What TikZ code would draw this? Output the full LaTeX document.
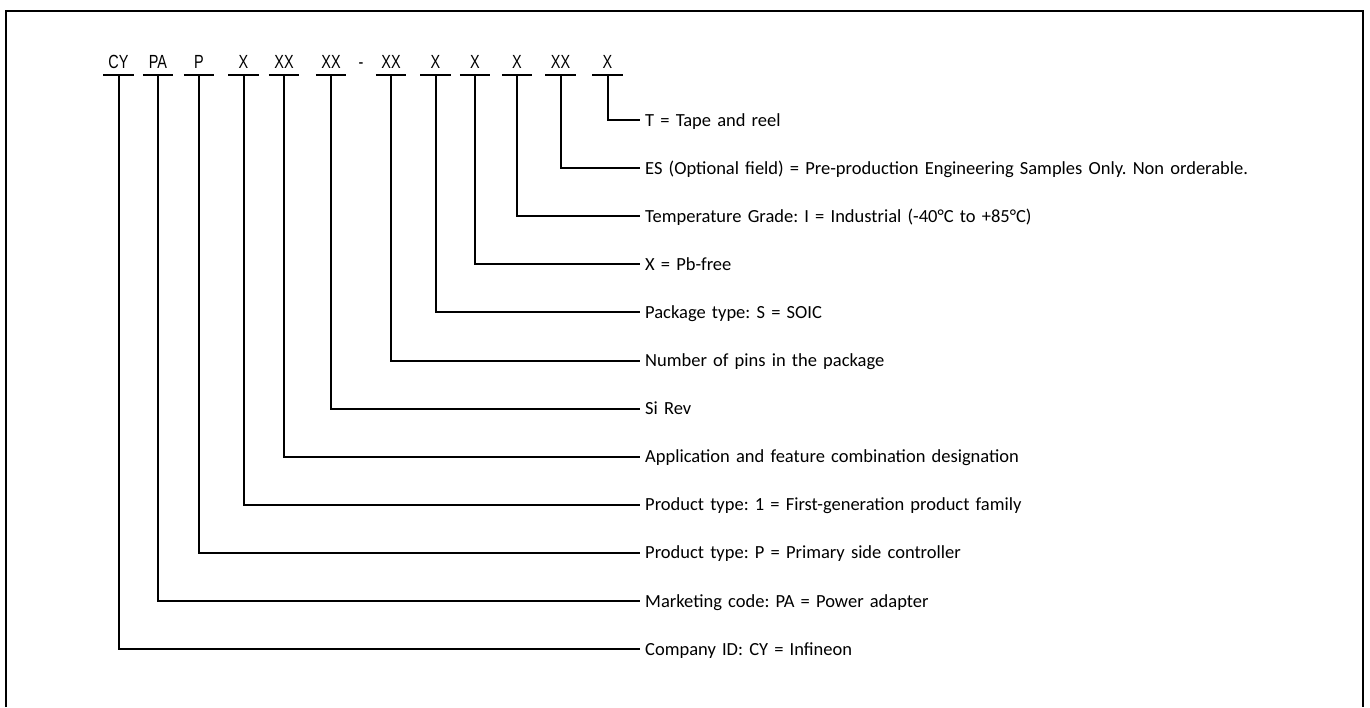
\documentclass[tikz,border=0pt]{standalone}
\usepackage{fontspec}
\setmainfont{Carlito}
\newfontfamily\pncodefont[FakeStretch=0.76]{Liberation Sans}
\usetikzlibrary{positioning}
\frenchspacing
\tikzset{
  pnpart/.style={anchor=south, minimum width=30pt, inner xsep=0pt, inner ysep=6pt,
    text depth=0pt, font=\pncodefont\fontsize{19}{22}\selectfont},
  pnlabel/.style={anchor=west, text width=700pt, align=left, inner xsep=5pt, inner ysep=0pt,
    text height=12pt, text depth=0pt, font=\fontsize{18.5}{22}\selectfont},
  lead/.style={line width=2pt, draw=black},
}
\begin{document}
\begin{tikzpicture}[x=1pt, y=-1pt, node distance=35.7pt]
    \useasboundingbox (0,0) rectangle (1370,707);
    \draw[lead] (6,707) -- (6,11) -- (1363,11) -- (1363,707);
    % part number fields
    \node[pnpart] (cy) at (118.5,75) {CY};
    \node[pnpart] (pa) at (158,75) {PA};
    \node[pnpart] (pp) at (199,75) {P};
    \node[pnpart] (px) at (243.5,75) {X};
    \node[pnpart] (xapp) at (284,75) {XX};
    \node[pnpart] (xrev) at (331,75) {XX};
    \node[pnpart, minimum width=0pt] (dash) at (361,75) {-};
    \node[pnpart] (xpin) at (391,75) {XX};
    \node[pnpart] (xpkg) at (435.5,75) {X};
    \node[pnpart] (xpb) at (475,75) {X};
    \node[pnpart] (xtmp) at (517,75) {X};
    \node[pnpart] (xes) at (560.5,75) {XX};
    \node[pnpart] (xt) at (607.5,75) {X};
    % descriptions
    \node[pnlabel] (ltape) at (640,120) {T = Tape and reel};
    \node[pnlabel, below=of ltape] (les) {ES (Optional field) = Pre-production Engineering Samples Only. Non orderable.};
    \node[pnlabel, below=of les] (ltemp) {Temperature Grade: I = Industrial (-40°C to +85°C)};
    \node[pnlabel, below=of ltemp] (lpb) {X = Pb-free};
    \node[pnlabel, below=of lpb] (lpkg) {Package type: S = SOIC};
    \node[pnlabel, below=of lpkg] (lpin) {Number of pins in the package};
    \node[pnlabel, below=of lpin] (lrev) {Si Rev};
    \node[pnlabel, below=of lrev] (lapp) {Application and feature combination designation};
    \node[pnlabel, below=of lapp] (lgen) {Product type: 1 = First-generation product family};
    \node[pnlabel, below=of lgen] (lprim) {Product type: P = Primary side controller};
    \node[pnlabel, below=of lprim] (lmkt) {Marketing code: PA = Power adapter};
    \node[pnlabel, below=of lmkt] (lcid) {Company ID: CY = Infineon};
    % underlines and leaders
    \draw[lead] (xt.south west) -- (xt.south east) (xt.south) |- (ltape.west);
    \draw[lead] (xes.south west) -- (xes.south east) (xes.south) |- (les.west);
    \draw[lead] (xtmp.south west) -- (xtmp.south east) (xtmp.south) |- (ltemp.west);
    \draw[lead] (xpb.south west) -- (xpb.south east) (xpb.south) |- (lpb.west);
    \draw[lead] (xpkg.south west) -- (xpkg.south east) (xpkg.south) |- (lpkg.west);
    \draw[lead] (xpin.south west) -- (xpin.south east) (xpin.south) |- (lpin.west);
    \draw[lead] (xrev.south west) -- (xrev.south east) (xrev.south) |- (lrev.west);
    \draw[lead] (xapp.south west) -- (xapp.south east) (xapp.south) |- (lapp.west);
    \draw[lead] (px.south west) -- (px.south east) (px.south) |- (lgen.west);
    \draw[lead] (pp.south west) -- (pp.south east) (pp.south) |- (lprim.west);
    \draw[lead] (pa.south west) -- (pa.south east) (pa.south) |- (lmkt.west);
    \draw[lead] (cy.south west) -- (cy.south east) (cy.south) |- (lcid.west);
\end{tikzpicture}
\end{document}
